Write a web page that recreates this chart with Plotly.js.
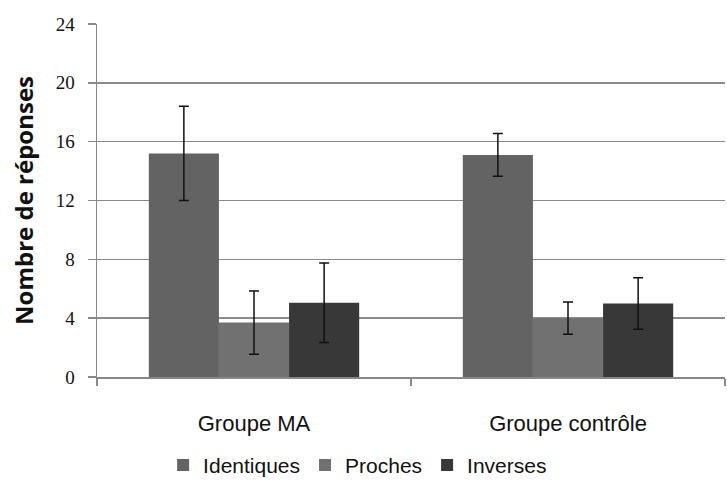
<!DOCTYPE html>
<html>
<head>
<meta charset="utf-8">
<script src="https://cdn.plot.ly/plotly-3.0.1.min.js"></script>
<style>html,body{margin:0;padding:0;background:#fff;}#chart{width:727px;height:489px;}</style>
</head>
<body>
<div id="chart"></div>
<script>
const categories = ["Groupe MA", "Groupe contrôle"];
const seriesNames = ["Identiques", "Proches", "Inverses"];
const identiques = [15.2, 15.1];
const identiquesErr = [3.2, 1.45];
const proches = [3.7, 4.0];
const prochesErr = [2.15, 1.1];
const inverses = [5.05, 5.0];
const inversesErr = [2.7, 1.75];
const yTicks = [0, 4, 8, 12, 16, 20, 24];

const colors = ["#636363", "#717171", "#383838"];
const values = [identiques, proches, inverses];
const errs = [identiquesErr, prochesErr, inversesErr];

const traces = seriesNames.map((name, i) => ({
  type: "bar",
  name: name,
  x: categories,
  y: values[i],
  marker: {color: colors[i], line: {width: 0}},
  error_y: {type: "data", array: errs[i], visible: true, color: "#111", thickness: 1.5, width: 5}
}));

const layout = {
  width: 727, height: 489,
  margin: {l: 97, r: 2, t: 24, b: 112},
  paper_bgcolor: "#fff", plot_bgcolor: "#fff",
  barmode: "group", bargap: 0.33, bargroupgap: 0,
  showlegend: true,
  legend: {orientation: "h", x: 0.415, xanchor: "center", y: -0.25, yanchor: "middle",
    font: {family: "Liberation Sans, Arial, sans-serif", size: 21, color: "#111"},
    itemwidth: 30, traceorder: "normal"},
  xaxis: {
    showline: true, linecolor: "#888", linewidth: 1.5,
    ticks: "outside", tickson: "boundaries", ticklen: 7, tickcolor: "#888", tickwidth: 1.5,
    tickfont: {family: "Liberation Sans, Arial, sans-serif", size: 22, color: "#111"},
    ticklabelstandoff: 26,
    showgrid: false, zeroline: false, fixedrange: true
  },
  yaxis: {
    range: [0, 24], tickvals: yTicks, ticktext: yTicks.map(String),
    showline: true, linecolor: "#888", linewidth: 1.5,
    ticks: "outside", ticklen: 8, tickcolor: "#888", tickwidth: 1.5,
    tickfont: {family: "Liberation Serif, DejaVu Serif, serif", size: 19, color: "#111"},
    ticklabelstandoff: 9,
    showgrid: true, gridcolor: "#8a8a8a", gridwidth: 1.6, zeroline: false,
    title: {text: "Nombre de réponses", font: {family: "Open Sans, sans-serif", size: 24, color: "#111", weight: "bold"}, standoff: 15},
    automargin: false, fixedrange: true
  }
};

Plotly.newPlot("chart", traces, layout, {displayModeBar: false, staticPlot: true});
</script>
</body>
</html>
